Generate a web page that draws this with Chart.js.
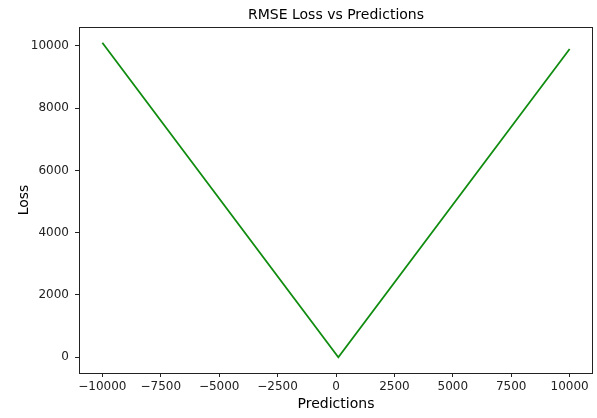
<!DOCTYPE html>
<html>
<head>
<meta charset="utf-8">
<script src="https://cdn.jsdelivr.net/npm/chart.js@4.4.1/dist/chart.umd.min.js"></script>
<style>
html,body{margin:0;padding:0;background:#fff;}
canvas{display:block;}
</style>
</head>
<body>
<canvas id="c" width="597" height="418"></canvas>
<script>
// Data
const predictions = [-10000, 100, 10000];
const loss = [10100, 0, 9900];
const xTicks = [-10000, -7500, -5000, -2500, 0, 2500, 5000, 7500, 10000];
const yTicks = [0, 2000, 4000, 6000, 8000, 10000];
const titleText = 'RMSE Loss vs Predictions';
const xLabel = 'Predictions';
const yLabel = 'Loss';

const FONT = '"DejaVu Sans", sans-serif';
const fmt = v => String(v).replace('-', '\u2212');

const framePlugin = {
  id: 'frame',
  afterDraw(chart) {
    const {ctx, chartArea: a} = chart;
    ctx.save();
    ctx.strokeStyle = '#222';
    ctx.lineWidth = 1;
    ctx.strokeRect(Math.round(a.left) + 0.5, Math.round(a.top) + 0.5,
                   Math.round(a.right - a.left) - 1, Math.round(a.bottom - a.top));
    // title centered over axes
    ctx.fillStyle = '#000';
    ctx.font = '14px ' + FONT;
    ctx.textAlign = 'center';
    ctx.textBaseline = 'middle';
    ctx.fillText(titleText, (a.left + a.right) / 2, 15);
    ctx.restore();
  }
};

new Chart(document.getElementById('c'), {
  type: 'scatter',
  data: {
    datasets: [{
      data: predictions.map((x, i) => ({x: x, y: loss[i]})),
      showLine: true,
      borderColor: '#108c10',
      borderWidth: 1.8,
      pointRadius: 0,
      fill: false,
      tension: 0
    }]
  },
  options: {
    responsive: false,
    animation: false,
    devicePixelRatio: 1,
    layout: {padding: {top: 27, right: 4, left: 0, bottom: 0}},
    plugins: {legend: {display: false}, tooltip: {enabled: false}, title: {display: false}},
    scales: {
      x: {
        type: 'linear',
        min: -11000,
        max: 11000,
        afterBuildTicks: ax => { ax.ticks = xTicks.map(v => ({value: v})); },
        afterFit: ax => { ax.height = 45; },
        border: {display: false},
        grid: {display: true, drawOnChartArea: false, drawTicks: true, tickLength: 4, tickColor: '#222', lineWidth: 1},
        ticks: {callback: v => fmt(v), color: '#222', font: {family: FONT, size: 12}, padding: 3, maxRotation: 0, autoSkip: false},
        title: {display: true, text: xLabel, color: '#000', font: {family: FONT, size: 14}, padding: {top: 0, bottom: 5}}
      },
      y: {
        type: 'linear',
        min: -505,
        max: 10605,
        afterBuildTicks: ax => { ax.ticks = yTicks.map(v => ({value: v})); },
        afterFit: ax => { ax.width = 79; },
        border: {display: false},
        grid: {display: true, drawOnChartArea: false, drawTicks: true, tickLength: 4, tickColor: '#222', lineWidth: 1},
        ticks: {callback: v => fmt(v), color: '#222', font: {family: FONT, size: 12}, padding: 6, autoSkip: false},
        title: {display: true, text: yLabel, color: '#000', font: {family: FONT, size: 14}, padding: {top: 16, bottom: 0}}
      }
    }
  },
  plugins: [framePlugin]
});
</script>
</body>
</html>
